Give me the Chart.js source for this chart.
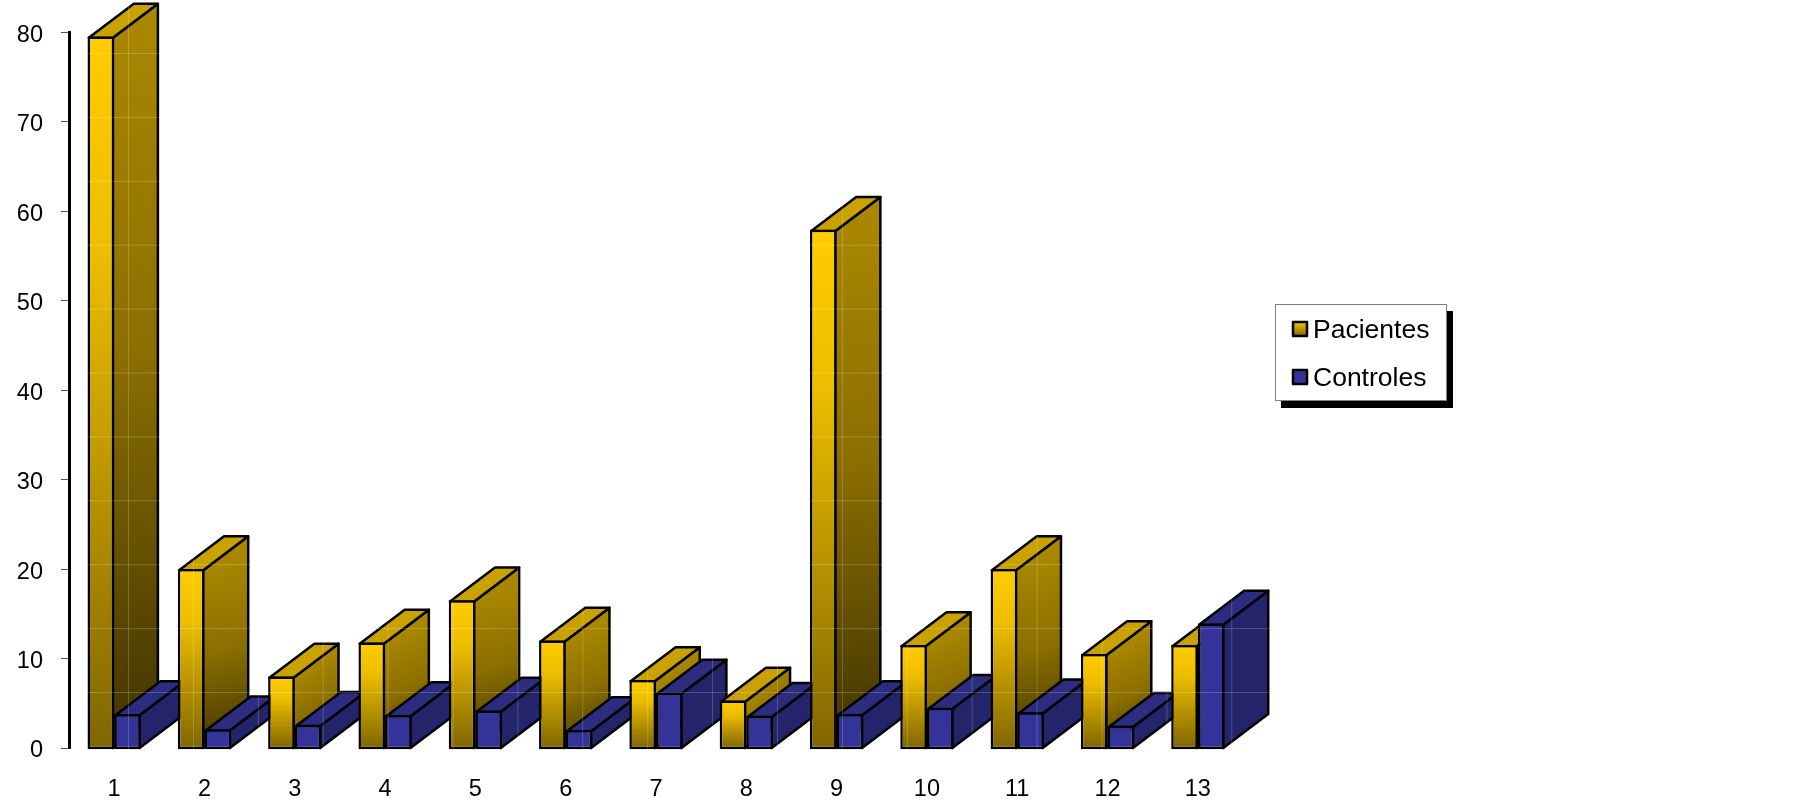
<!DOCTYPE html>
<html>
<head>
<meta charset="utf-8">
<title>Pacientes / Controles</title>
<script src="https://cdn.jsdelivr.net/npm/chart.js@4/dist/chart.umd.min.js"></script>
<style>
  html, body { margin: 0; padding: 0; background: #fff; }
  canvas { display: block; }
</style>
</head>
<body>
<canvas id="chart-1" width="1805" height="803"></canvas>
<script>
const categories = ['1', '2', '3', '4', '5', '6', '7', '8', '9', '10', '11', '12', '13'];
const pacientes = [79.5, 20, 8, 11.8, 16.5, 12, 7.6, 5.3, 57.9, 11.5, 20, 10.5, 11.5];
const controles = [3.8, 2.1, 2.6, 3.7, 4.2, 2, 6.2, 3.6, 3.8, 4.5, 4, 2.5, 13.9];
const yTicks = [0, 10, 20, 30, 40, 50, 60, 70, 80];

const DEPTH_X = 45;
const DEPTH_Y = 34;
const LINE = 2.5;
const FONT = '"Liberation Sans", Arial, sans-serif';

// front face gradient runs over the height of each bar
function frontFill(c) {
    const y = c.chart.scales.y;
    const top = y ? y.getPixelForValue(c.raw) : NaN;
    const bottom = y ? y.getPixelForValue(0) : NaN;
    if (!isFinite(top) || !isFinite(bottom)) return '#FFCC00';
    const g = c.chart.ctx.createLinearGradient(0, top, 0, bottom);
    g.addColorStop(0, '#FFCC00');
    g.addColorStop(0.3, '#EDBE00');
    g.addColorStop(1, '#806600');
    return g;
}

function face(ctx, pts, fill) {
    ctx.beginPath();
    pts.forEach((p, i) => i ? ctx.lineTo(p[0], p[1]) : ctx.moveTo(p[0], p[1]));
    ctx.closePath();
    ctx.fillStyle = fill;
    ctx.fill();
    ctx.lineWidth = LINE;
    ctx.lineJoin = 'round';
    ctx.strokeStyle = '#000';
    ctx.stroke();
}

function drawDepth(ctx, bar, yellow) {
    const l = bar.x - bar.width / 2 + LINE / 2;
    const r = bar.x + bar.width / 2 - LINE / 2;
    const t = bar.y + LINE / 2;
    const b = bar.base - LINE / 2;
    let side = '#24246B';
    let top = '#2C2C80';
    if (yellow) {
        side = ctx.createLinearGradient(r, t, r + DEPTH_X, b);
        side.addColorStop(0, '#A88600');
        side.addColorStop(0.45, '#8A6E00');
        side.addColorStop(1, '#403300');
        top = '#C9A200';
    }
    face(ctx, [[r, t], [r + DEPTH_X, t - DEPTH_Y], [r + DEPTH_X, b - DEPTH_Y], [r, b]], side);
    face(ctx, [[l, t], [l + DEPTH_X, t - DEPTH_Y], [r + DEPTH_X, t - DEPTH_Y], [r, t]], top);
}

// bars are painted category by category so the next group hides the depth of the previous one
const bars3d = {
    id: 'bars3d',
    beforeDatasetsDraw(chart) {
        const ctx = chart.ctx;
        categories.forEach((c, i) => {
            chart.data.datasets.forEach((ds, d) => {
                const bar = chart.getDatasetMeta(d).data[i];
                ctx.save();
                drawDepth(ctx, bar, d === 0);
                ctx.restore();
                bar.draw(ctx);
            });
        });
        return false;
    }
};

// faint white lattice that lies over the bars in the original
const lattice = {
    id: 'lattice',
    afterDraw(chart) {
        const ctx = chart.ctx;
        ctx.save();
        ctx.strokeStyle = 'rgba(255,255,255,0.2)';
        ctx.lineWidth = 1;
        ctx.beginPath();
        for (let y = 53.5; y < 760; y += 63.9) { ctx.moveTo(72, y); ctx.lineTo(1270, y); }
        for (let x = 128.5; x < 1270; x += 64.9) { ctx.moveTo(x, 0); ctx.lineTo(x, 749); }
        ctx.stroke();
        ctx.restore();
    }
};

const boxLegend = {
    id: 'boxLegend',
    afterDraw(chart) {
        const ctx = chart.ctx;
        ctx.save();
        ctx.fillStyle = '#000';
        ctx.fillRect(1281, 311, 172, 97);
        ctx.fillStyle = '#fff';
        ctx.fillRect(1275, 304, 172, 97);
        ctx.strokeStyle = '#808080';
        ctx.lineWidth = 1;
        ctx.strokeRect(1275.5, 304.5, 171, 96);
        chart.data.datasets.forEach((ds, d) => {
            const top = d === 0 ? 321 : 369;
            let fill = '#333399';
            if (d === 0) {
                fill = ctx.createLinearGradient(0, top, 0, top + 15);
                fill.addColorStop(0, '#FFCC00');
                fill.addColorStop(1, '#806600');
            }
            ctx.fillStyle = fill;
            ctx.strokeStyle = '#000';
            ctx.lineWidth = 2.5;
            ctx.lineJoin = 'round';
            ctx.fillRect(1293, top + 1, 14, 14);
            ctx.strokeRect(1293, top + 1, 14, 14);
            ctx.fillStyle = '#000';
            ctx.font = '26.5px ' + FONT;
            ctx.textAlign = 'left';
            ctx.textBaseline = 'middle';
            ctx.fillText(ds.label, 1313, top + 10);
        });
        ctx.restore();
    }
};

const chart = new Chart(document.getElementById('chart-1').getContext('2d'), {
    type: 'bar',
    data: {
        labels: categories,
        datasets: [
            // base sits a hair under zero so the outline is centred on the axis zero
            { label: 'Pacientes', data: pacientes, backgroundColor: frontFill, base: -0.14 },
            { label: 'Controles', data: controles, backgroundColor: '#333399', base: -0.14 }
        ]
    },
    plugins: [bars3d, lattice, boxLegend],
    options: {
        responsive: false,
        animation: false,
        devicePixelRatio: 1,
        layout: { padding: { top: 31, right: 562, left: 0, bottom: 0 } },
        elements: { bar: { borderColor: '#000', borderWidth: LINE, borderSkipped: false } },
        datasets: { bar: { categoryPercentage: 0.59, barPercentage: 1 } },
        plugins: { legend: { display: false }, tooltip: { enabled: false } },
        scales: {
            x: {
                grid: { display: false, drawTicks: false },
                border: { display: false },
                ticks: { color: '#000', font: { family: FONT, size: 23.5 }, padding: 27, maxRotation: 0 },
                afterFit(s) { s.height = 55; }
            },
            y: {
                min: 0,
                max: 80,
                afterBuildTicks(s) { s.ticks = yTicks.map(v => ({ value: v })); },
                grid: { drawOnChartArea: false, tickLength: 8, tickColor: '#555', tickWidth: 1 },
                border: { color: '#000', width: 3 },
                ticks: { color: '#000', font: { family: FONT, size: 23.5 }, padding: 18, labelOffset: 3 },
                afterFit(s) { s.width = 69; }
            }
        }
    }
});
</script>
</body>
</html>
